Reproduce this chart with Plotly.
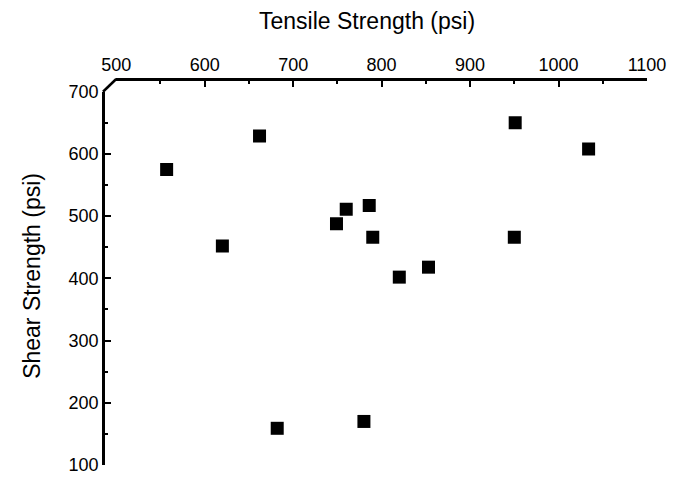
import plotly.graph_objects as go

tensile = [557, 662, 620, 760, 786, 749, 790, 820, 853, 682, 780, 951, 950, 1034]
shear = [575, 629, 452, 511, 517, 488, 466, 402, 418, 159, 170, 650, 466, 608]
x_ticks = [500, 600, 700, 800, 900, 1000, 1100]
y_ticks = [100, 200, 300, 400, 500, 600, 700]

FONT = "Liberation Sans, Arial, sans-serif"

fig = go.Figure()
fig.add_trace(go.Scatter(
    x=tensile, y=shear, mode="markers",
    marker=dict(symbol="square", size=13, color="black"),
    showlegend=False,
))

x0d = 0.0243
y1d = 0.967
axis_common = dict(
    showgrid=False, zeroline=False, showline=True, linecolor="black", linewidth=2.5,
    ticks="inside", ticklen=6, tickwidth=2, tickcolor="black",
    tickfont=dict(family=FONT, size=18, color="black"),
    minor=dict(ticks="inside", ticklen=3, tickwidth=1.5, tickcolor="black", dtick=50),
)
fig.update_layout(
    width=678, height=487,
    margin=dict(l=103, r=24, t=79, b=18),
    paper_bgcolor="white", plot_bgcolor="white",
    xaxis=dict(axis_common, range=[500, 1100], tickvals=x_ticks, side="top",
               domain=[x0d, 1], anchor="free", position=1),
    yaxis=dict(axis_common, range=[100, 700], tickvals=y_ticks,
               domain=[0, y1d], anchor="free", position=0),
    annotations=[
        dict(text="Tensile Strength (psi)", xref="paper", yref="paper", x=0.486, y=1.0,
             yshift=58, showarrow=False, font=dict(family=FONT, size=23, color="black"),
             xanchor="center", yanchor="middle"),
        dict(text="Shear Strength (psi)", xref="paper", yref="paper", x=0, xshift=-71,
             y=0.49, showarrow=False, textangle=-90,
             font=dict(family=FONT, size=23, color="black"),
             xanchor="center", yanchor="middle"),
    ],
    shapes=[dict(type="line", xref="paper", yref="paper", x0=0, y0=y1d, x1=x0d, y1=1,
                 line=dict(color="black", width=2.5))],
)
fig.write_html("out.html")
